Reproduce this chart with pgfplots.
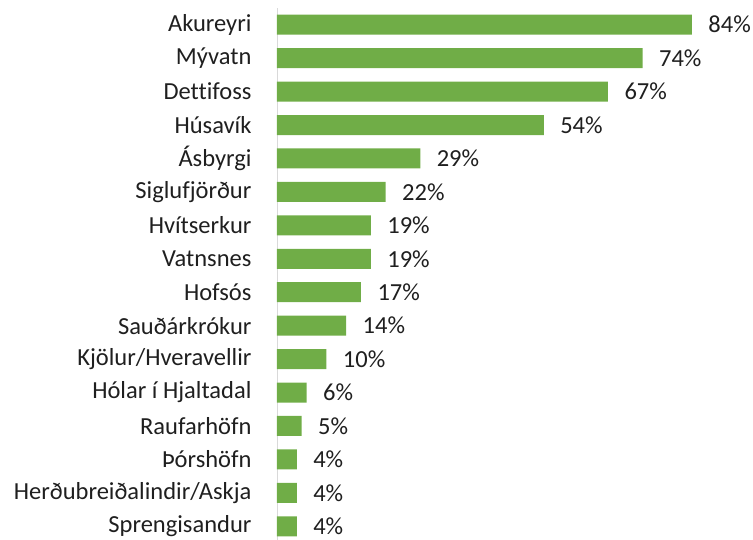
\documentclass[border=0pt]{standalone}
\usepackage{pgfplots}
\pgfplotsset{compat=1.18}
\usepackage{fontspec}
\setmainfont[Ligatures=NoCommon]{Carlito}
\definecolor{bargreen}{HTML}{70AD47}
\definecolor{txt}{HTML}{1F1F1F}
\begin{document}
\begin{tikzpicture}
\begin{axis}[
  at={(277pt,-8pt)}, anchor=north west,
  scale only axis, width=476pt, height=535pt,
  xbar, bar width=20pt,
  xmin=0, xmax=96.36, ymin=-0.5, ymax=15.5, y dir=reverse,
  axis x line=none,
  axis y line*=left,
  y axis line style={draw=black!15, line width=0.8pt},
  ytick={0,...,15}, major tick length=0pt,
  yticklabels={Akureyri,Mývatn,Dettifoss,Húsavík,Ásbyrgi,Siglufjörður,Hvítserkur,Vatnsnes,Hofsós,Sauðárkrókur,Kjölur/Hveravellir,Hólar í Hjaltadal,Raufarhöfn,Þórshöfn,Herðubreiðalindir/Askja,Sprengisandur},
  yticklabel style={font=\fontsize{24.5}{26}\selectfont, text=txt, anchor=east, inner ysep=0pt},
  tick label style={/pgf/number format/assume math mode=true},
  y tick label style={xshift=-22pt},
  nodes near coords={\pgfplotspointmeta\%},
  nodes near coords style={font=\fontsize{24.5}{26}\selectfont, text=txt, anchor=west, xshift=13pt, inner ysep=0pt},
  point meta=explicit symbolic,
]
\addplot[fill=bargreen, draw=none] table[meta=v] {
x y v
84 0 84
74 1 74
67 2 67
54 3 54
29 4 29
22 5 22
19 6 19
19 7 19
17 8 17
14 9 14
10 10 10
6 11 6
5 12 5
4 13 4
4 14 4
4 15 4
};
\end{axis}
\pgfresetboundingbox
\path[use as bounding box] (0,0) rectangle (753pt,-540pt);
\end{tikzpicture}
\end{document}
